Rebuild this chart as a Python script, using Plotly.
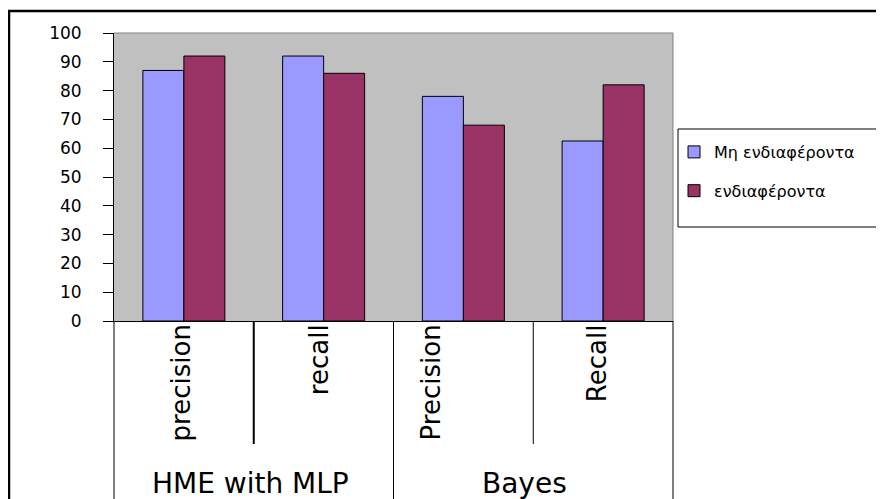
import plotly.graph_objects as go

# ---- data ----
categories = ["precision", "recall", "Precision", "Recall"]
groups = ["HME with MLP", "Bayes"]
group_sizes = [2, 2]
series_names = ["Μη ενδιαφέροντα", "ενδιαφέροντα"]
not_interesting = [87, 92, 78, 62.5]
interesting = [92, 86, 68, 82]
y_ticks = [0, 10, 20, 30, 40, 50, 60, 70, 80, 90, 100]

# ---- style ----
colors = ["#9999FF", "#993366"]
FONT = "DejaVu Sans"
OFF = 8  # page body margin
SW, SH = 884, 499  # screen size
W, H = SW - OFF, SH - OFF
# plot area in screen pixels
PL, PR, PT, PB = 114, 673, 33, 321
ML, MR, MT, MB = PL - OFF, W - (PR - OFF), PT - OFF, H - (PB - OFF)
plot_w = PR - PL
plot_h = PB - PT


def px_x(px):
    return (px - PL) / plot_w


def px_y(py):
    return (PB - py) / plot_h


inner_label_shift = [-3, -5, -32, -6]
group_label_shift = [-3, -9]

fig = go.Figure()
for name, vals, col, grp in zip(series_names, [not_interesting, interesting], colors, ["a", "b"]):
    fig.add_trace(go.Bar(
        x=categories, y=vals, name=name, legendgroup=grp,
        marker=dict(color=col, line=dict(color="black", width=1)),
    ))

shapes = []
# outer chart frame
shapes.append(dict(type="rect", xref="paper", yref="paper",
                   x0=px_x(9), x1=px_x(SW + 40), y0=px_y(SH + 40), y1=px_y(11),
                   line=dict(color="black", width=2.5), layer="below"))
# plot area border top/right (gray)
shapes.append(dict(type="line", xref="x domain", yref="y domain", x0=0, x1=1, y0=1, y1=1,
                   line=dict(color="#808080", width=1)))
shapes.append(dict(type="line", xref="x domain", yref="y domain", x0=1, x1=1, y0=0, y1=1,
                   line=dict(color="#808080", width=1)))
# category table lines: long lines at group boundaries
n = len(categories)
bounds = [0]
for s in group_sizes:
    bounds.append(bounds[-1] + s)
for b in bounds:
    if b == 0:
        shapes.append(dict(type="line", xref="x domain", yref="paper", x0=0, x1=0,
                           y0=0, y1=px_y(SH + 40), line=dict(color="black", width=1)))
    elif b == n:
        shapes.append(dict(type="line", xref="x domain", yref="paper", x0=1, x1=1,
                           y0=0, y1=px_y(SH + 40), line=dict(color="black", width=1)))
    else:
        shapes.append(dict(type="line", xref="x", yref="paper", x0=b - 0.5, x1=b - 0.5,
                           y0=0, y1=px_y(SH + 40), line=dict(color="black", width=1)))
# short lines between categories inside a group
short_widths = [2, 1]
k = 0
for gi, s in enumerate(group_sizes):
    start = bounds[gi]
    for j in range(1, s):
        xb = start + j - 0.5
        shapes.append(dict(type="line", xref="x", yref="paper", x0=xb, x1=xb,
                           y0=0, y1=px_y(444), line=dict(color="black", width=short_widths[k % 2])))
        k += 1
# legend box
shapes.append(dict(type="rect", xref="paper", yref="paper",
                   x0=px_x(678), x1=px_x(SW + 40), y0=px_y(227), y1=px_y(129),
                   line=dict(color="black", width=1), fillcolor="white", layer="above"))

annotations = []
for i, c in enumerate(categories):
    annotations.append(dict(x=c, xref="x", y=0, yref="paper", text=c, showarrow=False,
                            textangle=-90, xanchor="center", yanchor="top",
                            xshift=inner_label_shift[i], yshift=-1,
                            font=dict(family=FONT, size=26, color="black")))
for gi, g in enumerate(groups):
    center = bounds[gi] + group_sizes[gi] / 2 - 0.5
    annotations.append(dict(x=center, xref="x", y=px_y(483), yref="paper", text=g,
                            showarrow=False, xanchor="center", yanchor="middle",
                            xshift=group_label_shift[gi],
                            font=dict(family=FONT, size=28, color="black")))

fig.update_layout(
    width=W, height=H,
    margin=dict(l=ML, r=MR, t=MT, b=MB, pad=0),
    paper_bgcolor="white", plot_bgcolor="#C0C0C0",
    barmode="group", bargap=0.413, bargroupgap=0,
    font=dict(family=FONT, color="black"),
    shapes=shapes, annotations=annotations,
    showlegend=True,
    legend=dict(x=px_x(674), xanchor="left", y=px_y(135), yanchor="top",
                bgcolor="rgba(0,0,0,0)", borderwidth=0, tracegroupgap=15,
                traceorder="grouped", itemwidth=30,
                font=dict(family=FONT, size=16, color="black")),
    xaxis=dict(type="category", range=[-0.5, n - 0.5], showline=True, linecolor="black",
               linewidth=1, ticks="", showticklabels=False, showgrid=False, zeroline=False),
    yaxis=dict(range=[0, 100], tickvals=y_ticks, showline=True, linecolor="black",
               linewidth=1, ticks="outside", ticklen=10, tickwidth=1, tickcolor="black",
               showgrid=False, zeroline=False, ticklabelstandoff=18,
               tickfont=dict(family=FONT, size=17, color="black")),
)

fig.write_html("out.html")
